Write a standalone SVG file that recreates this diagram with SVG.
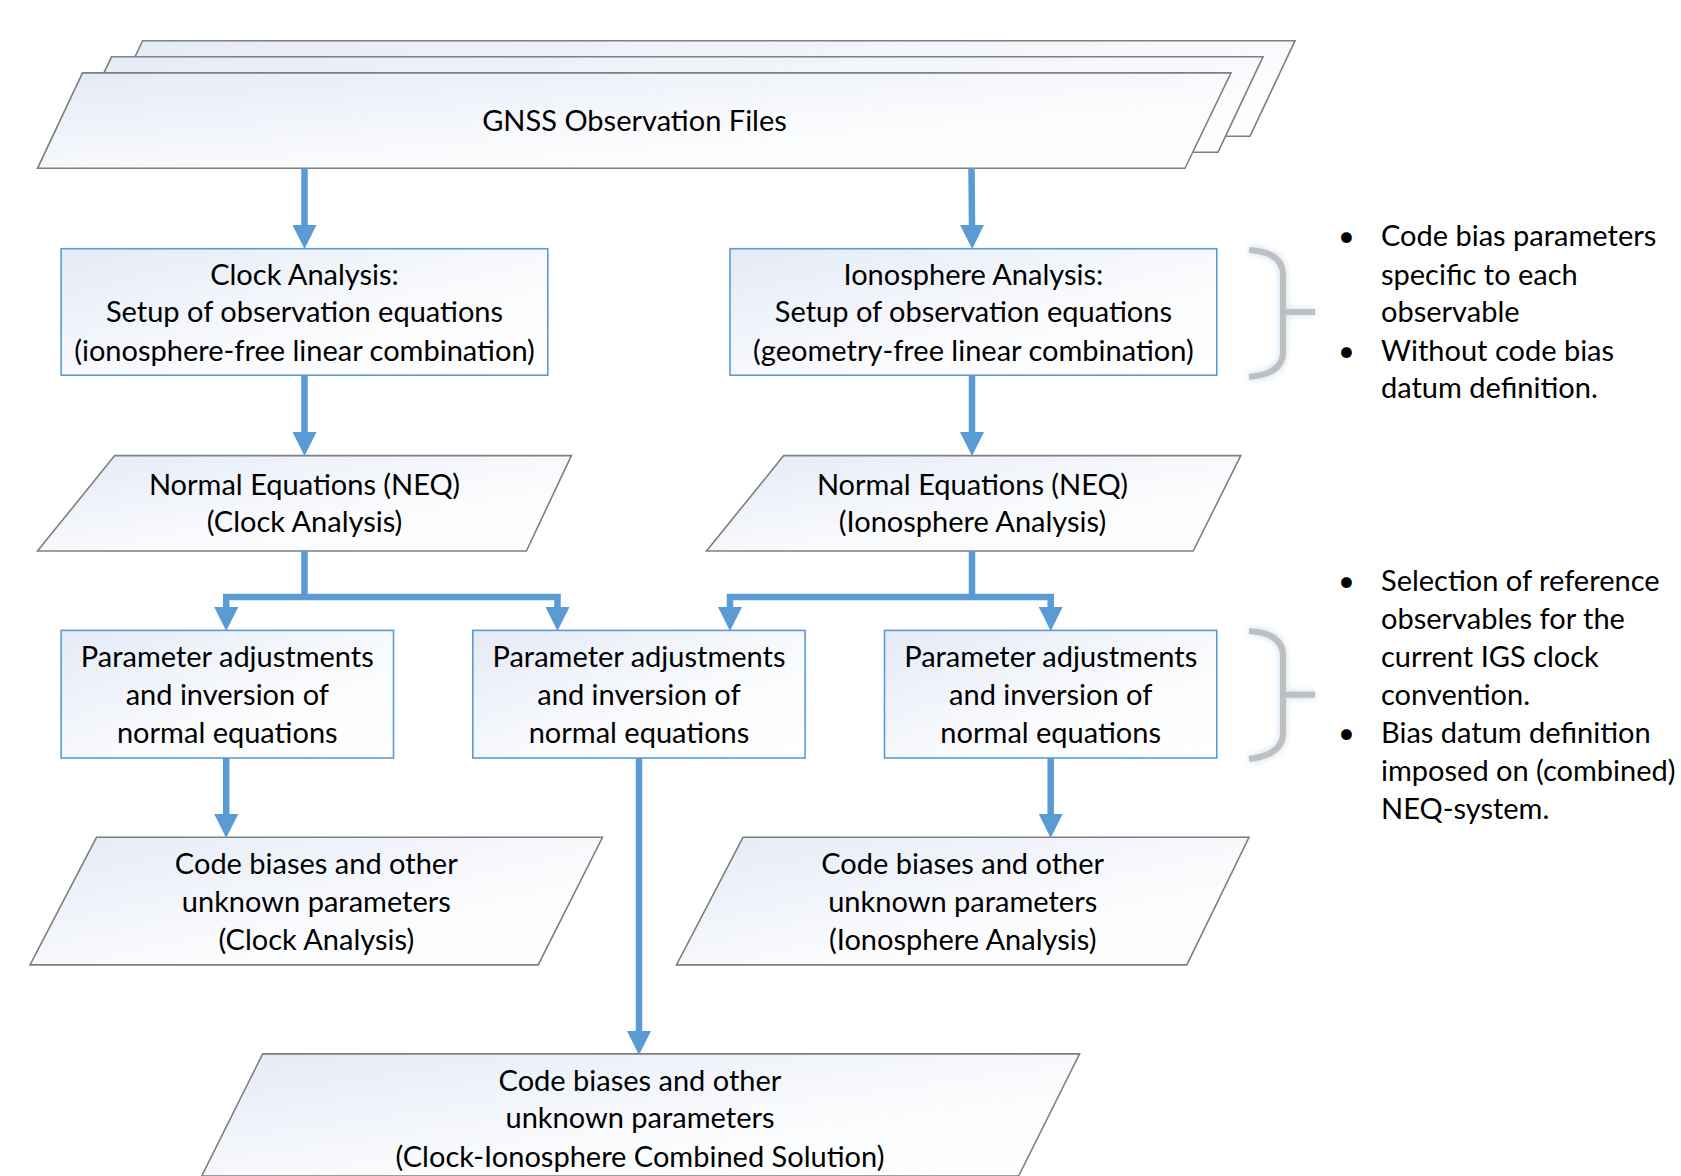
<svg xmlns="http://www.w3.org/2000/svg" width="1681" height="1176" viewBox="0 0 1681 1176">
<defs>
<linearGradient id="g" x1="0" y1="0" x2="1" y2="1">
<stop offset="0" stop-color="#e4eaf6"/>
<stop offset="0.6" stop-color="#fafbfd"/>
<stop offset="1" stop-color="#ffffff"/>
</linearGradient>
<marker id="ah" markerUnits="userSpaceOnUse" markerWidth="24" markerHeight="24" refX="0" refY="11.5" orient="auto-start-reverse" viewBox="0 0 23 23">
<path d="M0,0 L23,11.5 L0,23 z" fill="#5b9bd5"/>
</marker>
<filter id="glow" x="-50%" y="-20%" width="200%" height="140%">
<feGaussianBlur stdDeviation="3"/>
</filter>
</defs>
<style>
.para{fill:url(#g);stroke:#7f7f7f;stroke-width:1.6}
.box{fill:url(#g);stroke:#5b9bd5;stroke-width:1.6}
.t{font-family:Lato,"Open Sans",sans-serif;font-size:29px;fill:#000;text-anchor:middle}
.b{font-family:Lato,"Open Sans",sans-serif;font-size:29px;fill:#000}
.c{fill:none;stroke:#5b9bd5;stroke-width:6.5;stroke-linejoin:miter}
.br{fill:none;stroke:#bfbfbf;stroke-width:6}
.brg{fill:none;stroke:#bdd7ee;stroke-width:7;filter:url(#glow);opacity:0.8}
</style>
<rect width="1681" height="1176" fill="#ffffff"/>

<g id="gnss">
<polygon class="para" points="142.6,40.7 1295,40.7 1250,136.2 97.5,136.2"/>
<polygon class="para" points="111.5,56.8 1263,56.8 1218,152.2 66.4,152.2"/>
<polygon class="para" points="82.5,72.9 1231,72.9 1185,168.3 37.5,168.3"/>
<text class="t" x="634.5" y="131">GNSS Observation Files</text>
</g>

<g id="clock-analysis">
<rect class="box" x="61.1" y="248.7" width="486.7" height="126.5"/>
<text class="t" x="304.5" y="284.5">Clock Analysis:</text>
<text class="t" x="304.5" y="322">Setup of observation equations</text>
<text class="t" x="304.5" y="360.5">(ionosphere-free linear combination)</text>
</g>

<g id="iono-analysis">
<rect class="box" x="730" y="248.7" width="486.8" height="126.5"/>
<text class="t" x="973.4" y="284.5">Ionosphere Analysis:</text>
<text class="t" x="973.4" y="322">Setup of observation equations</text>
<text class="t" x="973.4" y="360.5">(geometry-free linear combination)</text>
</g>

<g id="neq-clock">
<polygon class="para" points="114.7,455.6 571.4,455.6 526.4,551 37.5,551"/>
<text class="t" x="304.5" y="494.5">Normal Equations (NEQ)</text>
<text class="t" x="304.5" y="532">(Clock Analysis)</text>
</g>

<g id="neq-iono">
<polygon class="para" points="783.7,455.6 1240.8,455.6 1193.2,551 706.5,551"/>
<text class="t" x="972.5" y="494.5">Normal Equations (NEQ)</text>
<text class="t" x="972.5" y="532">(Ionosphere Analysis)</text>
</g>

<g id="param-left">
<rect class="box" x="61.1" y="630.4" width="332.4" height="127.6"/>
<text class="t" x="227.3" y="667">Parameter adjustments</text>
<text class="t" x="227.3" y="704.5">and inversion of</text>
<text class="t" x="227.3" y="743">normal equations</text>
</g>

<g id="param-mid">
<rect class="box" x="472.8" y="630.4" width="332.3" height="127.6"/>
<text class="t" x="639" y="667">Parameter adjustments</text>
<text class="t" x="639" y="704.5">and inversion of</text>
<text class="t" x="639" y="743">normal equations</text>
</g>

<g id="param-right">
<rect class="box" x="884.5" y="630.4" width="332.3" height="127.6"/>
<text class="t" x="1050.7" y="667">Parameter adjustments</text>
<text class="t" x="1050.7" y="704.5">and inversion of</text>
<text class="t" x="1050.7" y="743">normal equations</text>
</g>

<g id="result-clock">
<polygon class="para" points="96.5,837.3 602.5,837.3 538.2,964.9 30,964.9"/>
<text class="t" x="316.3" y="874">Code biases and other</text>
<text class="t" x="316.3" y="911.5">unknown parameters</text>
<text class="t" x="316.3" y="950">(Clock Analysis)</text>
</g>

<g id="result-iono">
<polygon class="para" points="743,837.3 1249,837.3 1186.8,964.9 676.5,964.9"/>
<text class="t" x="962.7" y="874">Code biases and other</text>
<text class="t" x="962.7" y="911.5">unknown parameters</text>
<text class="t" x="962.7" y="950">(Ionosphere Analysis)</text>
</g>

<g id="result-combined">
<polygon class="para" points="262.7,1053.9 1079.6,1053.9 1018.6,1176 201.7,1176"/>
<text class="t" x="640" y="1090.5">Code biases and other</text>
<text class="t" x="640" y="1128">unknown parameters</text>
<text class="t" x="640" y="1166.5">(Clock-Ionosphere Combined Solution)</text>
</g>

<g id="connectors">
<path class="c" d="M304.5,168.3 V225" marker-end="url(#ah)"/>
<path class="c" d="M971.5,168.3 L972,225" marker-end="url(#ah)"/>
<path class="c" d="M304.5,375.2 V432" marker-end="url(#ah)"/>
<path class="c" d="M972,375.2 V432" marker-end="url(#ah)"/>
<path class="c" d="M304.5,551 V597"/>
<path class="c" d="M226.2,607 V597 H557.5 V607" marker-start="url(#ah)" marker-end="url(#ah)"/>
<path class="c" d="M972,551 V597"/>
<path class="c" d="M730,607 V597 H1050.7 V607" marker-start="url(#ah)" marker-end="url(#ah)"/>
<path class="c" d="M226.2,758 V814" marker-end="url(#ah)"/>
<path class="c" d="M1050.7,758 V814" marker-end="url(#ah)"/>
<path class="c" d="M639,758 V1031" marker-end="url(#ah)"/>
</g>

<g id="bracket-top">
<path class="brg" d="M1249,250 Q1283,252 1283,275 V352 Q1283,374 1249,377 M1283,312 H1315"/>
<path class="br" d="M1249,250 Q1283,252 1283,275 V352 Q1283,374 1249,377 M1283,312 H1315"/>
</g>
<g id="bracket-bottom">
<path class="brg" d="M1249,631 Q1283,633 1283,656 V733 Q1283,755 1249,759 M1283,694.7 H1315"/>
<path class="br" d="M1249,631 Q1283,633 1283,656 V733 Q1283,755 1249,759 M1283,694.7 H1315"/>
</g>

<g id="notes-top">
<text class="b" x="1338" y="246">•</text>
<text class="b" x="1381" y="246">Code bias parameters</text>
<text class="b" x="1381" y="284.5">specific to each</text>
<text class="b" x="1381" y="322">observable</text>
<text class="b" x="1338" y="360.5">•</text>
<text class="b" x="1381" y="360.5">Without code bias</text>
<text class="b" x="1381" y="398">datum definition.</text>
</g>
<g id="notes-bottom">
<text class="b" x="1338" y="591">•</text>
<text class="b" x="1381" y="591">Selection of reference</text>
<text class="b" x="1381" y="628.5">observables for the</text>
<text class="b" x="1381" y="667">current IGS clock</text>
<text class="b" x="1381" y="704.5">convention.</text>
<text class="b" x="1338" y="743">•</text>
<text class="b" x="1381" y="743">Bias datum definition</text>
<text class="b" x="1381" y="780.5">imposed on (combined)</text>
<text class="b" x="1381" y="819">NEQ-system.</text>
</g>
</svg>
